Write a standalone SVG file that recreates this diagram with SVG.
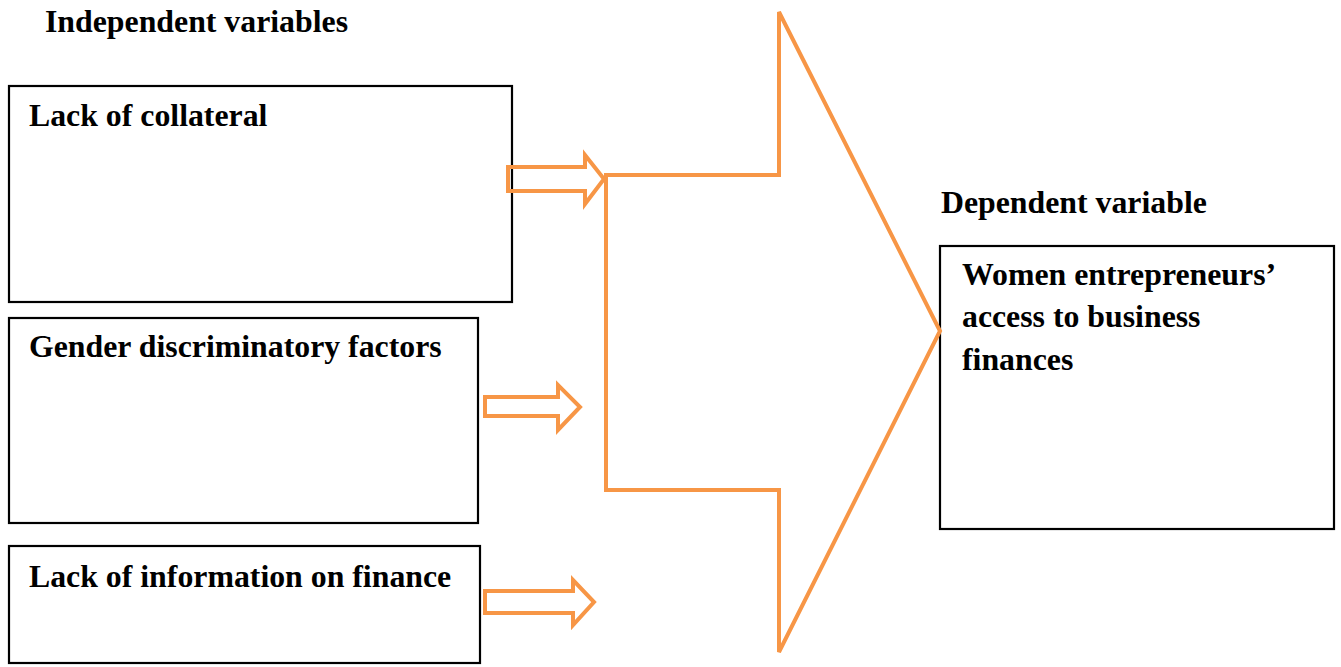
<svg xmlns="http://www.w3.org/2000/svg" width="1341" height="667" viewBox="0 0 1341 667">
<style>
.box{fill:#fff;stroke:#000;stroke-width:2.2}
.t{font-family:"Liberation Serif","Times New Roman",serif;font-weight:bold;font-size:31.8px;fill:#000}
.o{fill:none;stroke:#F79646;stroke-width:4;stroke-linejoin:miter}
</style>
<rect width="1341" height="667" fill="#fff"/>
<text class="t" x="45" y="32">Independent variables</text>
<text class="t" x="941" y="213">Dependent variable</text>
<g id="n1"><rect class="box" x="9" y="86" width="503" height="216"/><text class="t" x="29" y="126">Lack of collateral</text></g>
<g id="n2"><rect class="box" x="9" y="318" width="469" height="205"/><text class="t" x="29" y="357">Gender discriminatory factors</text></g>
<g id="n3"><rect class="box" x="9" y="546" width="471" height="117"/><text class="t" x="29" y="587">Lack of information on finance</text></g>
<g id="n4"><rect class="box" x="940" y="246" width="394" height="283"/>
<text class="t" x="962" y="285">Women entrepreneurs’</text>
<text class="t" x="962" y="327">access to business</text>
<text class="t" x="962" y="370">finances</text></g>
<g id="connectors">
<polygon class="o" points="508,167 585,167 585,155 604,179 585,204 585,191 508,191"/>
<polygon class="o" points="485,397 558,397 558,385 580,407 558,430 558,416 485,416"/>
<polygon class="o" points="485,591 573,591 573,580 594,602 573,625 573,613 485,613"/>
<polygon class="o" points="606,175 779,175 779,12 940,331 779,652 779,490 606,490"/>
</g>
</svg>
